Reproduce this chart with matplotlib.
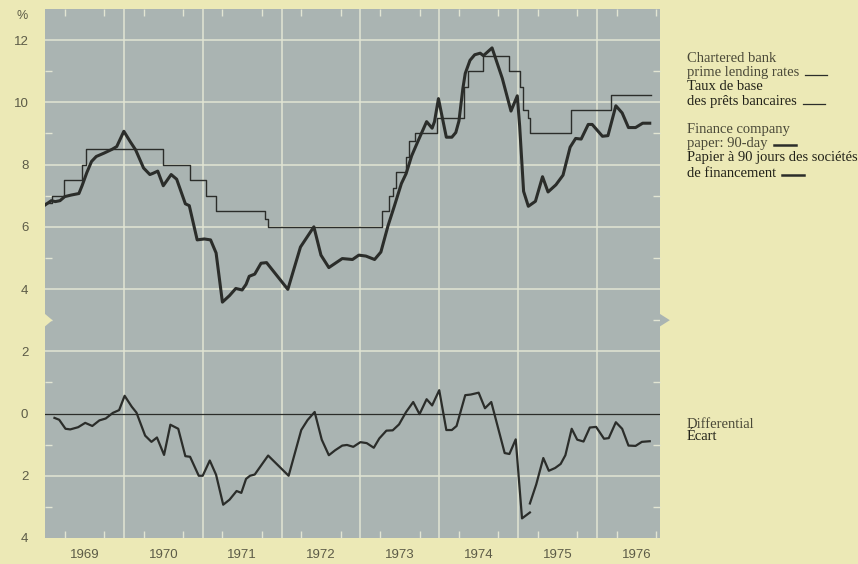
import numpy as np
import matplotlib
matplotlib.use("Agg")
import matplotlib.pyplot as plt
from matplotlib.patches import Polygon
from matplotlib.lines import Line2D
import matplotlib.transforms as mtransforms

# ---------------- data ----------------
# Chartered bank prime lending rate (step changes: start year, rate %)
prime_dates = [1969.00, 1969.09, 1969.24, 1969.47, 1969.52, 1970.50, 1970.84,
               1971.04, 1971.17, 1971.79, 1971.83, 1973.28, 1973.36, 1973.41,
               1973.45, 1973.58, 1973.62, 1973.69, 1973.97, 1974.32, 1974.36,
               1974.56, 1974.88, 1975.03, 1975.06, 1975.12, 1975.15, 1975.67,
               1976.18, 1976.69]
prime_rates = [6.75, 7.0, 7.5, 8.0, 8.5, 8.0, 7.5,
               7.0, 6.5, 6.25, 6.0, 6.5, 7.0, 7.25,
               7.75, 8.25, 8.75, 9.0, 9.5, 10.5, 11.0,
               11.5, 11.0, 10.5, 9.75, 9.5, 9.0, 9.75,
               10.25, 10.25]

# Finance company paper, 90-day (%)
paper_dates = [1969.00, 1969.08, 1969.13, 1969.19, 1969.25, 1969.33, 1969.43, 1969.47,
               1969.53, 1969.59, 1969.65, 1969.75, 1969.85, 1969.91, 1970.00, 1970.08,
               1970.15, 1970.25, 1970.33, 1970.37, 1970.43, 1970.50, 1970.60, 1970.67,
               1970.78, 1970.83, 1970.93, 1971.02, 1971.10, 1971.17, 1971.25, 1971.34,
               1971.42, 1971.50, 1971.55, 1971.59, 1971.66, 1971.74, 1971.81, 1972.08,
               1972.24, 1972.41, 1972.50, 1972.60, 1972.77, 1972.90, 1972.98, 1973.07,
               1973.18, 1973.26, 1973.35, 1973.43, 1973.52, 1973.58, 1973.65, 1973.73,
               1973.84, 1973.91, 1973.94, 1973.99, 1974.09, 1974.16, 1974.21, 1974.25,
               1974.30, 1974.33, 1974.39, 1974.45, 1974.52, 1974.56, 1974.67, 1974.80,
               1974.91, 1974.99, 1975.02, 1975.07, 1975.13, 1975.22, 1975.31, 1975.38,
               1975.48, 1975.57, 1975.66, 1975.73, 1975.80, 1975.89, 1975.94, 1976.07,
               1976.14, 1976.24, 1976.32, 1976.40, 1976.49, 1976.58, 1976.67]
paper_rates = [6.70, 6.84, 6.81, 6.84, 6.97, 7.02, 7.07, 7.32,
               7.74, 8.10, 8.26, 8.37, 8.49, 8.58, 9.07, 8.74,
               8.47, 7.89, 7.68, 7.72, 7.79, 7.32, 7.68, 7.53,
               6.74, 6.68, 5.58, 5.61, 5.58, 5.16, 3.58, 3.79,
               4.02, 3.97, 4.15, 4.41, 4.48, 4.83, 4.85, 3.99,
               5.35, 6.00, 5.09, 4.69, 4.98, 4.95, 5.09, 5.06,
               4.95, 5.19, 6.03, 6.66, 7.39, 7.71, 8.28, 8.75,
               9.38, 9.17, 9.38, 10.12, 8.88, 8.88, 9.03, 9.40,
               10.45, 10.93, 11.35, 11.53, 11.58, 11.50, 11.75, 10.77,
               9.72, 10.21, 9.24, 7.14, 6.66, 6.82, 7.61, 7.12,
               7.35, 7.66, 8.56, 8.84, 8.82, 9.29, 9.29, 8.91,
               8.93, 9.89, 9.66, 9.19, 9.19, 9.33, 9.33]

# Differential (paper minus prime, % points); NaN marks the break in the line
diff_dates = [1969.12, 1969.18, 1969.26, 1969.32, 1969.42, 1969.51, 1969.60, 1969.69,
              1969.77, 1969.86, 1969.94, 1970.01, 1970.10, 1970.16, 1970.27, 1970.35,
              1970.42, 1970.51, 1970.59, 1970.69, 1970.78, 1970.84, 1970.95, 1971.00,
              1971.09, 1971.17, 1971.26, 1971.34, 1971.43, 1971.49, 1971.55, 1971.60,
              1971.66, 1971.83, 1972.09, 1972.25, 1972.33, 1972.42, 1972.51, 1972.60,
              1972.68, 1972.77, 1972.83, 1972.91, 1973.00, 1973.08, 1973.17, 1973.24,
              1973.33, 1973.41, 1973.49, 1973.58, 1973.67, 1973.75, 1973.84, 1973.91,
              1974.00, 1974.09, 1974.16, 1974.22, 1974.33, 1974.40, 1974.50, 1974.58,
              1974.66, 1974.83, 1974.89, 1974.97, 1975.05, 1975.15, np.nan,
              1975.15, 1975.23, 1975.32, 1975.39, 1975.47, 1975.54, 1975.60, 1975.68,
              1975.75, 1975.83, 1975.91, 1975.99, 1976.09, 1976.15, 1976.24, 1976.32,
              1976.40, 1976.49, 1976.57, 1976.67]
diff_vals = [-0.14, -0.20, -0.49, -0.51, -0.44, -0.30, -0.40, -0.22,
             -0.16, 0.02, 0.11, 0.57, 0.22, 0.03, -0.71, -0.91,
             -0.77, -1.33, -0.36, -0.49, -1.37, -1.39, -2.00, -2.00,
             -1.51, -1.97, -2.93, -2.77, -2.49, -2.55, -2.10, -2.00,
             -1.96, -1.35, -2.00, -0.53, -0.21, 0.05, -0.84, -1.34,
             -1.18, -1.03, -1.01, -1.07, -0.92, -0.95, -1.10, -0.80,
             -0.55, -0.54, -0.35, 0.05, 0.37, -0.02, 0.46, 0.26,
             0.75, -0.53, -0.53, -0.40, 0.59, 0.61, 0.67, 0.17,
             0.37, -1.27, -1.30, -0.83, -3.37, -3.18, np.nan,
             -2.89, -2.28, -1.43, -1.84, -1.75, -1.62, -1.34, -0.49,
             -0.84, -0.90, -0.45, -0.43, -0.81, -0.79, -0.28, -0.49,
             -1.03, -1.04, -0.91, -0.89]

year_labels = ["1969", "1970", "1971", "1972", "1973", "1974", "1975", "1976"]
ytick_pos = [12, 10, 8, 6, 4, 2, 0, -2, -4]
ytick_txt = ["12", "10", "8", "6", "4", "2", "0", "2", "4"]

# ---------------- style ----------------
BG = "#ece9b6"
PLOT = "#aab4b2"
GRID = "#e2e5d3"
INK = "#2b2d2a"
LBL = "#5c5b47"
TXT_EN = "#4a4938"
TXT_FR = "#222219"

W, H = 858, 564
fig = plt.figure(figsize=(W / 100, H / 100), dpi=100, facecolor=BG)
L, R, T, B = 45, 660, 9, 538
ax = fig.add_axes([L / W, 1 - B / H, (R - L) / W, (B - T) / H])
ax.set_facecolor(PLOT)
for s in ax.spines.values():
    s.set_visible(False)

ax.set_xlim(1969, 1976.8)
ax.set_ylim(-4, 13)

# grid
for yv in [12, 10, 8, 6, 4, 2, -2]:
    ax.axhline(yv, color=GRID, lw=1.1, zorder=1)
for yr in range(1970, 1977):
    ax.axvline(yr, color=GRID, lw=1.1, zorder=1)
ax.axhline(0, color=INK, lw=0.9, zorder=2)

# ticks
ax.set_xticks([1969.5 + i for i in range(len(year_labels))])
ax.set_xticklabels(year_labels)
ax.set_yticks(ytick_pos)
ax.set_yticklabels(ytick_txt)
ax.tick_params(axis="both", which="major", length=0, labelsize=9.5, labelcolor=LBL)
ax.tick_params(axis="x", which="major", pad=8)
ax.tick_params(axis="y", which="major", pad=12)
for lab in ax.get_xticklabels() + ax.get_yticklabels():
    lab.set_fontfamily("Liberation Sans")
quarters = [1969 + q / 4 for q in range(1, 32) if q % 4 != 0]
ax.set_xticks(quarters, minor=True)
ax.set_yticks([11, 9, 7, 5, 3, 1, -1, -3], minor=True)
ax.tick_params(axis="both", which="minor", direction="in", length=5, width=1.0,
               color=GRID, top=True, bottom=True, left=True, right=True)

# "%" label
fig.text(22 / W, 1 - 16 / H, "%", fontsize=9, color=LBL, family="Liberation Sans",
         ha="center", va="center")

# break notches at y = 3
tr = mtransforms.blended_transform_factory(ax.transAxes, ax.transData)
ax.add_patch(Polygon([(0, 3.2), (0.012, 3.0), (0, 2.8)], closed=True, transform=tr,
                     facecolor=BG, edgecolor="none", zorder=5, clip_on=False))
ax.add_patch(Polygon([(1.0, 3.2), (1.016, 3.0), (1.0, 2.8)], closed=True, transform=tr,
                     facecolor=PLOT, edgecolor="none", zorder=5, clip_on=False))

# series
ax.plot(prime_dates, prime_rates, drawstyle="steps-post", color=INK, lw=1.0, zorder=3)
ax.plot(paper_dates, paper_rates, color=INK, lw=2.2, zorder=4,
        solid_joinstyle="round")
ax.plot(diff_dates, diff_vals, color=INK, lw=1.6, zorder=4, solid_joinstyle="round")

# right-hand labels
fx = 687 / W
def ftxt(y, s, fr=False):
    return fig.text(fx, 1 - y / H, s, fontsize=10.5, color=TXT_FR if fr else TXT_EN,
                    family="Liberation Serif", ha="left", va="center")

ftxt(59, "Chartered bank")
t1 = ftxt(73, "prime lending rates")
ftxt(87, "Taux de base", True)
t2 = ftxt(102, "des prêts bancaires", True)
ftxt(129, "Finance company")
t3 = ftxt(144, "paper: 90-day")
ftxt(158, "Papier à 90 jours des sociétés", True)
t4 = ftxt(173, "de financement", True)
ftxt(424, "Differential")
ftxt(437, "Écart", True)

fig.canvas.draw()
renderer = fig.canvas.get_renderer()

def dash_after(t, y, lw, gap=6, length=22):
    bb = t.get_window_extent(renderer)
    x0 = bb.x1 + gap
    fig.add_artist(Line2D([x0 / W, (x0 + length) / W], [1 - y / H, 1 - y / H],
                          color=INK, lw=lw))

dash_after(t1, 75, 0.9)
dash_after(t2, 104, 0.9)
dash_after(t3, 145, 1.8)
dash_after(t4, 175, 1.8)

fig.savefig("out.png", dpi=100, facecolor=BG)
